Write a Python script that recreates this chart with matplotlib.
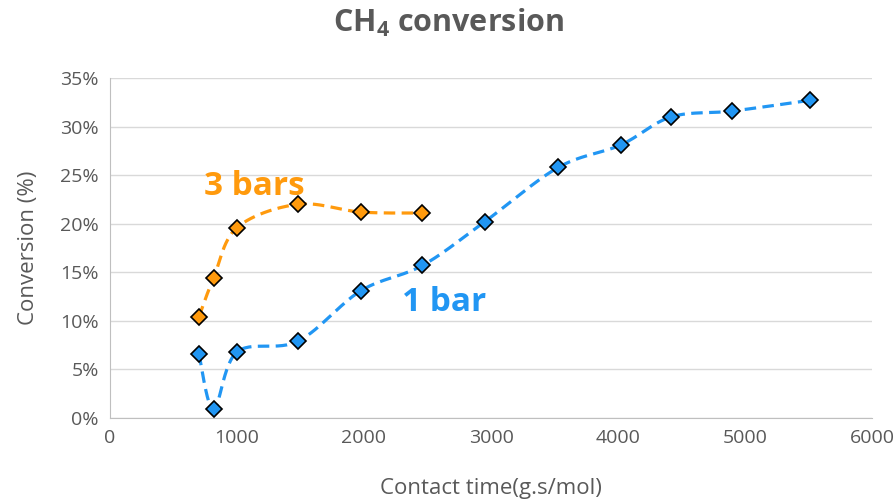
import numpy as np
import matplotlib
matplotlib.use("Agg")
import matplotlib.pyplot as plt

# Data
x_1bar = [700, 815, 1000, 1480, 1975, 2460, 2950, 3530, 4020, 4420, 4900, 5510]
y_1bar = [6.6, 0.9, 6.8, 7.9, 13.1, 15.7, 20.2, 25.8, 28.1, 31.0, 31.6, 32.7]
x_3bar = [700, 815, 1000, 1480, 1975, 2460]
y_3bar = [10.4, 14.4, 19.6, 22.0, 21.2, 21.1]
x_ticks = [0, 1000, 2000, 3000, 4000, 5000, 6000]
y_ticks = [0, 5, 10, 15, 20, 25, 30, 35]

plt.rcParams['font.family'] = ['Open Sans', 'DejaVu Sans']
plt.rcParams['mathtext.fontset'] = 'custom'
plt.rcParams['mathtext.rm'] = 'Open Sans:bold'

BLUE = '#2196F3'
ORANGE = '#FF9A0D'
GRAY = '#595959'


def smooth(xs, ys, sx, sy, n=30):
    # Bezier smoothing (Catmull-Rom style) computed in screen-like scale
    P = np.column_stack([np.asarray(xs, float) * sx, np.asarray(ys, float) * sy])
    out = [P[0]]
    for i in range(len(P) - 1):
        p0 = P[i - 1] if i > 0 else P[i]
        p1, p2 = P[i], P[i + 1]
        p3 = P[i + 2] if i + 2 < len(P) else P[i + 1]
        c1 = p1 + (p2 - p0) / 6.0
        c2 = p2 - (p3 - p1) / 6.0
        t = np.linspace(0, 1, n)[1:, None]
        seg = ((1 - t) ** 3) * p1 + 3 * ((1 - t) ** 2) * t * c1 + 3 * (1 - t) * t ** 2 * c2 + t ** 3 * p2
        out.extend(seg)
    out = np.array(out)
    return out[:, 0] / sx, out[:, 1] / sy


fig = plt.figure(figsize=(8.96, 5.04), dpi=100)
ax = fig.add_axes([110 / 896, (504 - 418) / 504, (872 - 110) / 896, (418 - 78) / 504])

sx, sy = 127.3 / 1000, 9.71
for xs, ys, c in [(x_3bar, y_3bar, ORANGE), (x_1bar, y_1bar, BLUE)]:
    cx, cy = smooth(xs, ys, sx, sy)
    ax.plot(cx, cy, color=c, lw=2.3, ls=(0, (3.6, 2.0)), zorder=3)
    ax.plot(xs, ys, ls='none', marker='D', ms=8.5, mfc=c, mec='black', mew=1.2, zorder=4)

ax.set_xlim(0, 6000)
ax.set_ylim(0, 35)
ax.set_xticks(x_ticks)
ax.set_yticks(y_ticks)
ax.set_yticklabels([f"{v}%" for v in y_ticks])
ax.tick_params(length=0, labelsize=14, colors=GRAY, pad=8)
ax.grid(axis='y', color='#D9D9D9', lw=1)
ax.set_axisbelow(True)
for s in ['top', 'right']:
    ax.spines[s].set_visible(False)
for s in ['left', 'bottom']:
    ax.spines[s].set_color('#BFBFBF')
ax.set_xlabel('Contact time(g.s/mol)', fontsize=16, color=GRAY, labelpad=22)
ax.set_ylabel('Conversion (%)', fontsize=16, color=GRAY, labelpad=15)

fig.text(0.5, 1 - 23 / 504, r'CH$_4$ conversion', ha='center', va='center',
         fontsize=22, fontweight='bold', color=GRAY)

ax.text(740, 23.8, '3 bars', color=ORANGE, fontsize=24, fontweight='bold', va='center', ha='left')
ax.text(2300, 11.9, '1 bar', color=BLUE, fontsize=24, fontweight='bold', va='center', ha='left')

fig.savefig('out.png', dpi=100)
